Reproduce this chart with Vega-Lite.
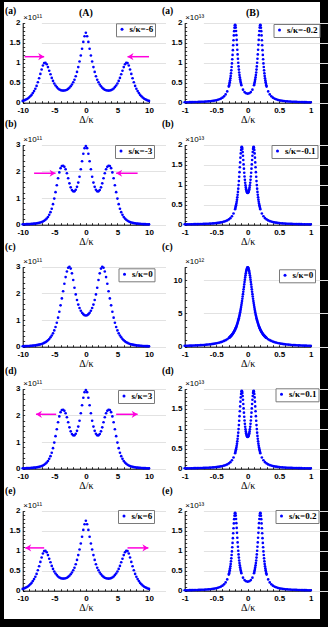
{
"$schema": "https://vega.github.io/schema/vega-lite/v6.json",
"background": "black",
"padding": {"left": 4, "top": 2, "right": 8, "bottom": 8},
"autosize": {"type": "pad"},
"columns": 2,
"spacing": 0,
"bounds": "flush",
"align": "each",
"resolve": {"scale": {"color": "independent", "shape": "independent"}, "legend": {"color": "independent", "shape": "independent"}},
"config": {
  "view": {"stroke": null, "fill": "white"},
  "axis": {"domainColor": "#000", "domainWidth": 1, "tickColor": "#000", "tickWidth": 0.8, "tickSize": -2, "labelFont": "Liberation Sans", "labelFontSize": 8, "labelFontWeight": "bold", "labelColor": "#000", "labelOverlap": false, "labelFlush": false, "minExtent": 0, "grid": false, "titleColor": "#000"},
  "axisX": {"offset": -21.3, "labelPadding": 6, "titleFont": "Liberation Serif", "titleFontSize": 10, "titleFontWeight": "normal", "titlePadding": 0},
  "axisY": {"offset": -18.7, "labelPadding": 4.7, "grid": true, "gridColor": "#e2e2e2", "gridWidth": 1, "titleAngle": 0, "titleAlign": "left", "titleBaseline": "alphabetic", "titleX": 0, "titleY": 17, "titleFont": "Liberation Sans", "titleFontSize": 8, "titleFontWeight": "normal"},
  "legend": {"orient": "none", "strokeColor": "#7a7a7a", "fillColor": "#ffffff", "padding": 1.5, "symbolType": "circle", "symbolSize": 9, "symbolStrokeWidth": 0, "labelFont": "Liberation Serif", "labelFontWeight": "bold", "labelFontSize": 9, "labelOffset": 3, "labelColor": "#000"},
  "title": {"anchor": "start", "frame": "group", "font": "Liberation Serif", "fontSize": 9.5, "fontWeight": "bold", "color": "#000", "baseline": "alphabetic"}
},
"datasets": {
"L6": [{"x":-10,"y":0.045},{"x":-9.8,"y":0.055},{"x":-9.6,"y":0.07},{"x":-9.4,"y":0.085},{"x":-9.2,"y":0.105},{"x":-9,"y":0.13},{"x":-8.8,"y":0.16},{"x":-8.6,"y":0.195},{"x":-8.4,"y":0.24},{"x":-8.2,"y":0.29},{"x":-8,"y":0.35},{"x":-7.8,"y":0.42},{"x":-7.6,"y":0.51},{"x":-7.4,"y":0.61},{"x":-7.2,"y":0.72},{"x":-7,"y":0.83},{"x":-6.8,"y":0.93},{"x":-6.6,"y":0.99},{"x":-6.4,"y":1},{"x":-6.2,"y":0.96},{"x":-6,"y":0.89},{"x":-5.8,"y":0.8},{"x":-5.6,"y":0.71},{"x":-5.4,"y":0.62},{"x":-5.2,"y":0.545},{"x":-5,"y":0.48},{"x":-4.8,"y":0.43},{"x":-4.6,"y":0.39},{"x":-4.4,"y":0.355},{"x":-4.2,"y":0.33},{"x":-4,"y":0.315},{"x":-3.8,"y":0.306},{"x":-3.6,"y":0.303},{"x":-3.4,"y":0.305},{"x":-3.2,"y":0.312},{"x":-3,"y":0.325},{"x":-2.8,"y":0.345},{"x":-2.6,"y":0.375},{"x":-2.4,"y":0.41},{"x":-2.2,"y":0.455},{"x":-2,"y":0.51},{"x":-1.8,"y":0.575},{"x":-1.6,"y":0.66},{"x":-1.4,"y":0.77},{"x":-1.2,"y":0.89},{"x":-1,"y":1.03},{"x":-0.8,"y":1.18},{"x":-0.6,"y":1.35},{"x":-0.4,"y":1.52},{"x":-0.2,"y":1.66},{"x":0,"y":1.75},{"x":0.2,"y":1.66},{"x":0.4,"y":1.52},{"x":0.6,"y":1.35},{"x":0.8,"y":1.18},{"x":1,"y":1.03},{"x":1.2,"y":0.89},{"x":1.4,"y":0.77},{"x":1.6,"y":0.66},{"x":1.8,"y":0.575},{"x":2,"y":0.51},{"x":2.2,"y":0.455},{"x":2.4,"y":0.41},{"x":2.6,"y":0.375},{"x":2.8,"y":0.345},{"x":3,"y":0.325},{"x":3.2,"y":0.312},{"x":3.4,"y":0.305},{"x":3.6,"y":0.303},{"x":3.8,"y":0.306},{"x":4,"y":0.315},{"x":4.2,"y":0.33},{"x":4.4,"y":0.355},{"x":4.6,"y":0.39},{"x":4.8,"y":0.43},{"x":5,"y":0.48},{"x":5.2,"y":0.545},{"x":5.4,"y":0.62},{"x":5.6,"y":0.71},{"x":5.8,"y":0.8},{"x":6,"y":0.89},{"x":6.2,"y":0.96},{"x":6.4,"y":1},{"x":6.6,"y":0.99},{"x":6.8,"y":0.93},{"x":7,"y":0.83},{"x":7.2,"y":0.72},{"x":7.4,"y":0.61},{"x":7.6,"y":0.51},{"x":7.8,"y":0.42},{"x":8,"y":0.35},{"x":8.2,"y":0.29},{"x":8.4,"y":0.24},{"x":8.6,"y":0.195},{"x":8.8,"y":0.16},{"x":9,"y":0.13},{"x":9.2,"y":0.105},{"x":9.4,"y":0.085},{"x":9.6,"y":0.07},{"x":9.8,"y":0.055},{"x":10,"y":0.045}],
"L3": [{"x":-10,"y":0.014},{"x":-9.8,"y":0.015},{"x":-9.6,"y":0.017},{"x":-9.4,"y":0.019},{"x":-9.2,"y":0.021},{"x":-9,"y":0.023},{"x":-8.8,"y":0.026},{"x":-8.6,"y":0.029},{"x":-8.4,"y":0.033},{"x":-8.2,"y":0.038},{"x":-8,"y":0.044},{"x":-7.8,"y":0.051},{"x":-7.6,"y":0.06},{"x":-7.4,"y":0.07},{"x":-7.2,"y":0.083},{"x":-7,"y":0.1},{"x":-6.8,"y":0.12},{"x":-6.6,"y":0.15},{"x":-6.4,"y":0.185},{"x":-6.2,"y":0.23},{"x":-6,"y":0.29},{"x":-5.8,"y":0.37},{"x":-5.6,"y":0.47},{"x":-5.4,"y":0.6},{"x":-5.2,"y":0.77},{"x":-5,"y":0.98},{"x":-4.8,"y":1.22},{"x":-4.6,"y":1.48},{"x":-4.4,"y":1.74},{"x":-4.2,"y":1.96},{"x":-4,"y":2.12},{"x":-3.8,"y":2.2},{"x":-3.6,"y":2.21},{"x":-3.4,"y":2.17},{"x":-3.2,"y":2.08},{"x":-3,"y":1.93},{"x":-2.8,"y":1.74},{"x":-2.6,"y":1.55},{"x":-2.4,"y":1.4},{"x":-2.2,"y":1.3},{"x":-2,"y":1.25},{"x":-1.8,"y":1.25},{"x":-1.6,"y":1.31},{"x":-1.4,"y":1.42},{"x":-1.2,"y":1.58},{"x":-1,"y":1.8},{"x":-0.8,"y":2.08},{"x":-0.6,"y":2.38},{"x":-0.4,"y":2.66},{"x":-0.2,"y":2.87},{"x":0,"y":2.95},{"x":0.2,"y":2.87},{"x":0.4,"y":2.66},{"x":0.6,"y":2.38},{"x":0.8,"y":2.08},{"x":1,"y":1.8},{"x":1.2,"y":1.58},{"x":1.4,"y":1.42},{"x":1.6,"y":1.31},{"x":1.8,"y":1.25},{"x":2,"y":1.25},{"x":2.2,"y":1.3},{"x":2.4,"y":1.4},{"x":2.6,"y":1.55},{"x":2.8,"y":1.74},{"x":3,"y":1.93},{"x":3.2,"y":2.08},{"x":3.4,"y":2.17},{"x":3.6,"y":2.21},{"x":3.8,"y":2.2},{"x":4,"y":2.12},{"x":4.2,"y":1.96},{"x":4.4,"y":1.74},{"x":4.6,"y":1.48},{"x":4.8,"y":1.22},{"x":5,"y":0.98},{"x":5.2,"y":0.77},{"x":5.4,"y":0.6},{"x":5.6,"y":0.47},{"x":5.8,"y":0.37},{"x":6,"y":0.29},{"x":6.2,"y":0.23},{"x":6.4,"y":0.185},{"x":6.6,"y":0.15},{"x":6.8,"y":0.12},{"x":7,"y":0.1},{"x":7.2,"y":0.083},{"x":7.4,"y":0.07},{"x":7.6,"y":0.06},{"x":7.8,"y":0.051},{"x":8,"y":0.044},{"x":8.2,"y":0.038},{"x":8.4,"y":0.033},{"x":8.6,"y":0.029},{"x":8.8,"y":0.026},{"x":9,"y":0.023},{"x":9.2,"y":0.021},{"x":9.4,"y":0.019},{"x":9.6,"y":0.017},{"x":9.8,"y":0.015},{"x":10,"y":0.014}],
"L0": [{"x":-10,"y":0.017},{"x":-9.8,"y":0.019},{"x":-9.6,"y":0.021},{"x":-9.4,"y":0.023},{"x":-9.2,"y":0.025},{"x":-9,"y":0.028},{"x":-8.8,"y":0.031},{"x":-8.6,"y":0.035},{"x":-8.4,"y":0.04},{"x":-8.2,"y":0.045},{"x":-8,"y":0.05},{"x":-7.8,"y":0.057},{"x":-7.6,"y":0.066},{"x":-7.4,"y":0.076},{"x":-7.2,"y":0.088},{"x":-7,"y":0.1},{"x":-6.8,"y":0.12},{"x":-6.6,"y":0.142},{"x":-6.4,"y":0.167},{"x":-6.2,"y":0.2},{"x":-6,"y":0.24},{"x":-5.8,"y":0.29},{"x":-5.6,"y":0.35},{"x":-5.4,"y":0.42},{"x":-5.2,"y":0.5},{"x":-5,"y":0.61},{"x":-4.8,"y":0.74},{"x":-4.6,"y":0.9},{"x":-4.4,"y":1.09},{"x":-4.2,"y":1.31},{"x":-4,"y":1.55},{"x":-3.8,"y":1.81},{"x":-3.6,"y":2.08},{"x":-3.4,"y":2.36},{"x":-3.2,"y":2.61},{"x":-3,"y":2.82},{"x":-2.8,"y":2.96},{"x":-2.6,"y":3},{"x":-2.4,"y":2.93},{"x":-2.2,"y":2.75},{"x":-2,"y":2.5},{"x":-1.8,"y":2.21},{"x":-1.6,"y":1.96},{"x":-1.4,"y":1.75},{"x":-1.2,"y":1.58},{"x":-1,"y":1.45},{"x":-0.8,"y":1.35},{"x":-0.6,"y":1.27},{"x":-0.4,"y":1.22},{"x":-0.2,"y":1.18},{"x":0,"y":1.17},{"x":0.2,"y":1.18},{"x":0.4,"y":1.22},{"x":0.6,"y":1.27},{"x":0.8,"y":1.35},{"x":1,"y":1.45},{"x":1.2,"y":1.58},{"x":1.4,"y":1.75},{"x":1.6,"y":1.96},{"x":1.8,"y":2.21},{"x":2,"y":2.5},{"x":2.2,"y":2.75},{"x":2.4,"y":2.93},{"x":2.6,"y":3},{"x":2.8,"y":2.96},{"x":3,"y":2.82},{"x":3.2,"y":2.61},{"x":3.4,"y":2.36},{"x":3.6,"y":2.08},{"x":3.8,"y":1.81},{"x":4,"y":1.55},{"x":4.2,"y":1.31},{"x":4.4,"y":1.09},{"x":4.6,"y":0.9},{"x":4.8,"y":0.74},{"x":5,"y":0.61},{"x":5.2,"y":0.5},{"x":5.4,"y":0.42},{"x":5.6,"y":0.35},{"x":5.8,"y":0.29},{"x":6,"y":0.24},{"x":6.2,"y":0.2},{"x":6.4,"y":0.167},{"x":6.6,"y":0.142},{"x":6.8,"y":0.12},{"x":7,"y":0.1},{"x":7.2,"y":0.088},{"x":7.4,"y":0.076},{"x":7.6,"y":0.066},{"x":7.8,"y":0.057},{"x":8,"y":0.05},{"x":8.2,"y":0.045},{"x":8.4,"y":0.04},{"x":8.6,"y":0.035},{"x":8.8,"y":0.031},{"x":9,"y":0.028},{"x":9.2,"y":0.025},{"x":9.4,"y":0.023},{"x":9.6,"y":0.021},{"x":9.8,"y":0.019},{"x":10,"y":0.017}],
"R2": [{"x":-1,"y":0.0108},{"x":-0.975,"y":0.0115},{"x":-0.95,"y":0.0121},{"x":-0.925,"y":0.0129},{"x":-0.9,"y":0.0137},{"x":-0.875,"y":0.0146},{"x":-0.85,"y":0.0156},{"x":-0.825,"y":0.0168},{"x":-0.8,"y":0.018},{"x":-0.775,"y":0.0194},{"x":-0.75,"y":0.021},{"x":-0.725,"y":0.0229},{"x":-0.7,"y":0.0249},{"x":-0.675,"y":0.0272},{"x":-0.65,"y":0.03},{"x":-0.625,"y":0.0332},{"x":-0.6,"y":0.037},{"x":-0.575,"y":0.0415},{"x":-0.55,"y":0.0469},{"x":-0.525,"y":0.0535},{"x":-0.5,"y":0.062},{"x":-0.475,"y":0.072},{"x":-0.45,"y":0.085},{"x":-0.425,"y":0.103},{"x":-0.4,"y":0.126},{"x":-0.375,"y":0.159},{"x":-0.35,"y":0.208},{"x":-0.325,"y":0.282},{"x":-0.3,"y":0.403},{"x":-0.295,"y":0.436},{"x":-0.29,"y":0.473},{"x":-0.285,"y":0.514},{"x":-0.28,"y":0.56},{"x":-0.275,"y":0.612},{"x":-0.27,"y":0.67},{"x":-0.265,"y":0.736},{"x":-0.26,"y":0.809},{"x":-0.255,"y":0.892},{"x":-0.25,"y":0.983},{"x":-0.245,"y":1.085},{"x":-0.24,"y":1.195},{"x":-0.235,"y":1.314},{"x":-0.23,"y":1.437},{"x":-0.225,"y":1.562},{"x":-0.22,"y":1.682},{"x":-0.215,"y":1.789},{"x":-0.21,"y":1.874},{"x":-0.205,"y":1.93},{"x":-0.2,"y":1.95},{"x":-0.195,"y":1.931},{"x":-0.19,"y":1.877},{"x":-0.185,"y":1.793},{"x":-0.18,"y":1.688},{"x":-0.175,"y":1.57},{"x":-0.17,"y":1.446},{"x":-0.165,"y":1.324},{"x":-0.16,"y":1.207},{"x":-0.155,"y":1.098},{"x":-0.15,"y":0.998},{"x":-0.145,"y":0.908},{"x":-0.14,"y":0.828},{"x":-0.135,"y":0.756},{"x":-0.13,"y":0.692},{"x":-0.125,"y":0.635},{"x":-0.12,"y":0.585},{"x":-0.115,"y":0.541},{"x":-0.11,"y":0.502},{"x":-0.105,"y":0.467},{"x":-0.1,"y":0.436},{"x":-0.075,"y":0.326},{"x":-0.05,"y":0.266},{"x":-0.025,"y":0.235},{"x":0,"y":0.226},{"x":0.025,"y":0.235},{"x":0.05,"y":0.266},{"x":0.075,"y":0.326},{"x":0.1,"y":0.436},{"x":0.105,"y":0.467},{"x":0.11,"y":0.502},{"x":0.115,"y":0.541},{"x":0.12,"y":0.585},{"x":0.125,"y":0.635},{"x":0.13,"y":0.692},{"x":0.135,"y":0.756},{"x":0.14,"y":0.828},{"x":0.145,"y":0.908},{"x":0.15,"y":0.998},{"x":0.155,"y":1.098},{"x":0.16,"y":1.207},{"x":0.165,"y":1.324},{"x":0.17,"y":1.446},{"x":0.175,"y":1.57},{"x":0.18,"y":1.688},{"x":0.185,"y":1.793},{"x":0.19,"y":1.877},{"x":0.195,"y":1.931},{"x":0.2,"y":1.95},{"x":0.205,"y":1.93},{"x":0.21,"y":1.874},{"x":0.215,"y":1.789},{"x":0.22,"y":1.682},{"x":0.225,"y":1.562},{"x":0.23,"y":1.437},{"x":0.235,"y":1.314},{"x":0.24,"y":1.195},{"x":0.245,"y":1.085},{"x":0.25,"y":0.983},{"x":0.255,"y":0.892},{"x":0.26,"y":0.809},{"x":0.265,"y":0.736},{"x":0.27,"y":0.67},{"x":0.275,"y":0.612},{"x":0.28,"y":0.56},{"x":0.285,"y":0.514},{"x":0.29,"y":0.473},{"x":0.295,"y":0.436},{"x":0.3,"y":0.403},{"x":0.325,"y":0.282},{"x":0.35,"y":0.208},{"x":0.375,"y":0.159},{"x":0.4,"y":0.126},{"x":0.425,"y":0.103},{"x":0.45,"y":0.085},{"x":0.475,"y":0.072},{"x":0.5,"y":0.062},{"x":0.525,"y":0.0535},{"x":0.55,"y":0.0469},{"x":0.575,"y":0.0415},{"x":0.6,"y":0.037},{"x":0.625,"y":0.0332},{"x":0.65,"y":0.03},{"x":0.675,"y":0.0272},{"x":0.7,"y":0.0249},{"x":0.725,"y":0.0229},{"x":0.75,"y":0.021},{"x":0.775,"y":0.0194},{"x":0.8,"y":0.018},{"x":0.825,"y":0.0168},{"x":0.85,"y":0.0156},{"x":0.875,"y":0.0146},{"x":0.9,"y":0.0137},{"x":0.925,"y":0.0129},{"x":0.95,"y":0.0121},{"x":0.975,"y":0.0115},{"x":1,"y":0.0108}],
"R1": [{"x":-1,"y":0.0094},{"x":-0.975,"y":0.0099},{"x":-0.95,"y":0.0104},{"x":-0.925,"y":0.011},{"x":-0.9,"y":0.0116},{"x":-0.875,"y":0.0124},{"x":-0.85,"y":0.0131},{"x":-0.825,"y":0.014},{"x":-0.8,"y":0.0149},{"x":-0.775,"y":0.0158},{"x":-0.75,"y":0.017},{"x":-0.725,"y":0.0183},{"x":-0.7,"y":0.0196},{"x":-0.675,"y":0.0212},{"x":-0.65,"y":0.0229},{"x":-0.625,"y":0.0249},{"x":-0.6,"y":0.0272},{"x":-0.575,"y":0.0297},{"x":-0.55,"y":0.0327},{"x":-0.525,"y":0.0362},{"x":-0.5,"y":0.0403},{"x":-0.475,"y":0.0451},{"x":-0.45,"y":0.0509},{"x":-0.425,"y":0.0579},{"x":-0.4,"y":0.0664},{"x":-0.375,"y":0.0771},{"x":-0.35,"y":0.0906},{"x":-0.325,"y":0.108},{"x":-0.3,"y":0.132},{"x":-0.275,"y":0.164},{"x":-0.25,"y":0.21},{"x":-0.225,"y":0.279},{"x":-0.2,"y":0.389},{"x":-0.195,"y":0.419},{"x":-0.19,"y":0.452},{"x":-0.185,"y":0.488},{"x":-0.18,"y":0.529},{"x":-0.175,"y":0.575},{"x":-0.17,"y":0.626},{"x":-0.165,"y":0.684},{"x":-0.16,"y":0.748},{"x":-0.155,"y":0.82},{"x":-0.15,"y":0.901},{"x":-0.145,"y":0.991},{"x":-0.14,"y":1.09},{"x":-0.135,"y":1.199},{"x":-0.13,"y":1.314},{"x":-0.125,"y":1.436},{"x":-0.12,"y":1.558},{"x":-0.115,"y":1.676},{"x":-0.11,"y":1.782},{"x":-0.105,"y":1.867},{"x":-0.1,"y":1.925},{"x":-0.095,"y":1.949},{"x":-0.09,"y":1.937},{"x":-0.085,"y":1.891},{"x":-0.08,"y":1.817},{"x":-0.075,"y":1.723},{"x":-0.07,"y":1.618},{"x":-0.065,"y":1.508},{"x":-0.06,"y":1.401},{"x":-0.055,"y":1.299},{"x":-0.05,"y":1.206},{"x":-0.045,"y":1.122},{"x":-0.04,"y":1.049},{"x":-0.035,"y":0.986},{"x":-0.03,"y":0.933},{"x":-0.025,"y":0.889},{"x":-0.02,"y":0.854},{"x":-0.015,"y":0.827},{"x":-0.01,"y":0.809},{"x":-0.005,"y":0.798},{"x":0,"y":0.794},{"x":0.005,"y":0.798},{"x":0.01,"y":0.809},{"x":0.015,"y":0.827},{"x":0.02,"y":0.854},{"x":0.025,"y":0.889},{"x":0.03,"y":0.933},{"x":0.035,"y":0.986},{"x":0.04,"y":1.049},{"x":0.045,"y":1.122},{"x":0.05,"y":1.206},{"x":0.055,"y":1.299},{"x":0.06,"y":1.401},{"x":0.065,"y":1.508},{"x":0.07,"y":1.618},{"x":0.075,"y":1.723},{"x":0.08,"y":1.817},{"x":0.085,"y":1.891},{"x":0.09,"y":1.937},{"x":0.095,"y":1.949},{"x":0.1,"y":1.925},{"x":0.105,"y":1.867},{"x":0.11,"y":1.782},{"x":0.115,"y":1.676},{"x":0.12,"y":1.558},{"x":0.125,"y":1.436},{"x":0.13,"y":1.314},{"x":0.135,"y":1.199},{"x":0.14,"y":1.09},{"x":0.145,"y":0.991},{"x":0.15,"y":0.901},{"x":0.155,"y":0.82},{"x":0.16,"y":0.748},{"x":0.165,"y":0.684},{"x":0.17,"y":0.626},{"x":0.175,"y":0.575},{"x":0.18,"y":0.529},{"x":0.185,"y":0.488},{"x":0.19,"y":0.452},{"x":0.195,"y":0.419},{"x":0.2,"y":0.389},{"x":0.225,"y":0.279},{"x":0.25,"y":0.21},{"x":0.275,"y":0.164},{"x":0.3,"y":0.132},{"x":0.325,"y":0.108},{"x":0.35,"y":0.0906},{"x":0.375,"y":0.0771},{"x":0.4,"y":0.0664},{"x":0.425,"y":0.0579},{"x":0.45,"y":0.0509},{"x":0.475,"y":0.0451},{"x":0.5,"y":0.0403},{"x":0.525,"y":0.0362},{"x":0.55,"y":0.0327},{"x":0.575,"y":0.0297},{"x":0.6,"y":0.0272},{"x":0.625,"y":0.0249},{"x":0.65,"y":0.0229},{"x":0.675,"y":0.0212},{"x":0.7,"y":0.0196},{"x":0.725,"y":0.0183},{"x":0.75,"y":0.017},{"x":0.775,"y":0.0158},{"x":0.8,"y":0.0149},{"x":0.825,"y":0.014},{"x":0.85,"y":0.0131},{"x":0.875,"y":0.0124},{"x":0.9,"y":0.0116},{"x":0.925,"y":0.011},{"x":0.95,"y":0.0104},{"x":0.975,"y":0.0099},{"x":1,"y":0.0094}],
"R0": [{"x":-1,"y":0.1298},{"x":-0.975,"y":0.1364},{"x":-0.95,"y":0.1436},{"x":-0.925,"y":0.1514},{"x":-0.9,"y":0.1598},{"x":-0.875,"y":0.1689},{"x":-0.85,"y":0.1789},{"x":-0.825,"y":0.1897},{"x":-0.8,"y":0.2015},{"x":-0.775,"y":0.2145},{"x":-0.75,"y":0.229},{"x":-0.725,"y":0.244},{"x":-0.7,"y":0.262},{"x":-0.675,"y":0.281},{"x":-0.65,"y":0.303},{"x":-0.625,"y":0.327},{"x":-0.6,"y":0.354},{"x":-0.575,"y":0.384},{"x":-0.55,"y":0.418},{"x":-0.525,"y":0.458},{"x":-0.5,"y":0.503},{"x":-0.475,"y":0.554},{"x":-0.45,"y":0.614},{"x":-0.425,"y":0.685},{"x":-0.4,"y":0.767},{"x":-0.375,"y":0.865},{"x":-0.35,"y":0.983},{"x":-0.325,"y":1.125},{"x":-0.3,"y":1.299},{"x":-0.295,"y":1.338},{"x":-0.29,"y":1.379},{"x":-0.285,"y":1.422},{"x":-0.28,"y":1.467},{"x":-0.275,"y":1.514},{"x":-0.27,"y":1.563},{"x":-0.265,"y":1.615},{"x":-0.26,"y":1.669},{"x":-0.255,"y":1.725},{"x":-0.25,"y":1.784},{"x":-0.245,"y":1.847},{"x":-0.24,"y":1.912},{"x":-0.235,"y":1.98},{"x":-0.23,"y":2.052},{"x":-0.225,"y":2.128},{"x":-0.22,"y":2.208},{"x":-0.215,"y":2.292},{"x":-0.21,"y":2.38},{"x":-0.205,"y":2.473},{"x":-0.2,"y":2.571},{"x":-0.195,"y":2.675},{"x":-0.19,"y":2.784},{"x":-0.185,"y":2.899},{"x":-0.18,"y":3.021},{"x":-0.175,"y":3.15},{"x":-0.17,"y":3.286},{"x":-0.165,"y":3.43},{"x":-0.16,"y":3.582},{"x":-0.155,"y":3.743},{"x":-0.15,"y":3.913},{"x":-0.145,"y":4.094},{"x":-0.14,"y":4.284},{"x":-0.135,"y":4.486},{"x":-0.13,"y":4.698},{"x":-0.125,"y":4.923},{"x":-0.12,"y":5.16},{"x":-0.115,"y":5.411},{"x":-0.11,"y":5.673},{"x":-0.105,"y":5.95},{"x":-0.1,"y":6.24},{"x":-0.095,"y":6.543},{"x":-0.09,"y":6.86},{"x":-0.085,"y":7.189},{"x":-0.08,"y":7.53},{"x":-0.075,"y":7.88},{"x":-0.07,"y":8.239},{"x":-0.065,"y":8.603},{"x":-0.06,"y":8.971},{"x":-0.055,"y":9.338},{"x":-0.05,"y":9.7},{"x":-0.045,"y":10.054},{"x":-0.04,"y":10.392},{"x":-0.035,"y":10.71},{"x":-0.03,"y":11.002},{"x":-0.025,"y":11.261},{"x":-0.02,"y":11.483},{"x":-0.015,"y":11.662},{"x":-0.01,"y":11.793},{"x":-0.005,"y":11.873},{"x":0,"y":11.9},{"x":0.005,"y":11.873},{"x":0.01,"y":11.793},{"x":0.015,"y":11.662},{"x":0.02,"y":11.483},{"x":0.025,"y":11.261},{"x":0.03,"y":11.002},{"x":0.035,"y":10.71},{"x":0.04,"y":10.392},{"x":0.045,"y":10.054},{"x":0.05,"y":9.7},{"x":0.055,"y":9.338},{"x":0.06,"y":8.971},{"x":0.065,"y":8.603},{"x":0.07,"y":8.239},{"x":0.075,"y":7.88},{"x":0.08,"y":7.53},{"x":0.085,"y":7.189},{"x":0.09,"y":6.86},{"x":0.095,"y":6.543},{"x":0.1,"y":6.24},{"x":0.105,"y":5.95},{"x":0.11,"y":5.673},{"x":0.115,"y":5.411},{"x":0.12,"y":5.16},{"x":0.125,"y":4.923},{"x":0.13,"y":4.698},{"x":0.135,"y":4.486},{"x":0.14,"y":4.284},{"x":0.145,"y":4.094},{"x":0.15,"y":3.913},{"x":0.155,"y":3.743},{"x":0.16,"y":3.582},{"x":0.165,"y":3.43},{"x":0.17,"y":3.286},{"x":0.175,"y":3.15},{"x":0.18,"y":3.021},{"x":0.185,"y":2.899},{"x":0.19,"y":2.784},{"x":0.195,"y":2.675},{"x":0.2,"y":2.571},{"x":0.205,"y":2.473},{"x":0.21,"y":2.38},{"x":0.215,"y":2.292},{"x":0.22,"y":2.208},{"x":0.225,"y":2.128},{"x":0.23,"y":2.052},{"x":0.235,"y":1.98},{"x":0.24,"y":1.912},{"x":0.245,"y":1.847},{"x":0.25,"y":1.784},{"x":0.255,"y":1.725},{"x":0.26,"y":1.669},{"x":0.265,"y":1.615},{"x":0.27,"y":1.563},{"x":0.275,"y":1.514},{"x":0.28,"y":1.467},{"x":0.285,"y":1.422},{"x":0.29,"y":1.379},{"x":0.295,"y":1.338},{"x":0.3,"y":1.299},{"x":0.325,"y":1.125},{"x":0.35,"y":0.983},{"x":0.375,"y":0.865},{"x":0.4,"y":0.767},{"x":0.425,"y":0.685},{"x":0.45,"y":0.614},{"x":0.475,"y":0.554},{"x":0.5,"y":0.503},{"x":0.525,"y":0.458},{"x":0.55,"y":0.418},{"x":0.575,"y":0.384},{"x":0.6,"y":0.354},{"x":0.625,"y":0.327},{"x":0.65,"y":0.303},{"x":0.675,"y":0.281},{"x":0.7,"y":0.262},{"x":0.725,"y":0.244},{"x":0.75,"y":0.229},{"x":0.775,"y":0.2145},{"x":0.8,"y":0.2015},{"x":0.825,"y":0.1897},{"x":0.85,"y":0.1789},{"x":0.875,"y":0.1689},{"x":0.9,"y":0.1598},{"x":0.925,"y":0.1514},{"x":0.95,"y":0.1436},{"x":0.975,"y":0.1364},{"x":1,"y":0.1298}]
},
"concat": [
{
 "width": 162, "height": 122,
 "title": {"text": "(a)", "dx": 1, "offset": -13.5},
 "encoding": {
  "x": {"field": "x", "type": "quantitative", "scale": {"domain": [-10, 10], "range": [18.7, 145], "nice": false, "zero": false}, "axis": {"labelOverlap": false, "values": [-10,-9,-8,-7,-6,-5,-4,-3,-2,-1,0,1,2,3,4,5,6,7,8,9,10], "labelExpr": "abs(datum.value/5-round(datum.value/5))<0.001 ? ''+datum.value : ''", "title": "Δ/κ", "grid": false}},
  "y": {"field": "y", "type": "quantitative", "scale": {"domain": [0, 2], "range": [100.7, 20.7], "nice": false, "zero": false}, "axis": {"labelOverlap": false, "values": [0,0.1,0.2,0.3,0.4,0.5,0.6,0.7,0.8,0.9,1,1.1,1.2,1.3,1.4,1.5,1.6,1.7,1.8,1.9,2], "labelExpr": "abs(datum.value*2-round(datum.value*2))<0.001 ? ''+datum.value : ''", "title": "×10¹¹", "gridOpacity": {"condition": {"test": "abs(datum.value*2-round(datum.value*2))<0.001", "value": 1}, "value": 0}}}
 },
 "layer": [
  {"data": {"name": "L6"}, "mark": {"type": "point", "filled": true, "size": 7, "opacity": 1},
   "encoding": {"color": {"datum": "s/κ=-6", "type": "nominal", "scale": {"range": ["#0000ff"]}, "legend": {"title": null, "legendX": 112, "legendY": 21.3}}}},
  {"data": {"values": [{"x": -9.7, "xe": -6.6, "y": 1.15}, {"x": 10, "xe": 6.6, "y": 1.15}]}, "mark": {"type": "rule", "color": "#ff00dd", "strokeWidth": 1.5},
   "encoding": {"x2": {"field": "xe"}}},
  {"data": {"values": [{"x": -6.6, "y": 1.15, "dir": "right"}, {"x": 6.6, "y": 1.15, "dir": "left"}]}, "mark": {"type": "point", "filled": true, "color": "#ff00dd", "size": 144, "opacity": 1},
   "encoding": {"shape": {"field": "dir", "type": "nominal", "scale": {"domain": ["right", "left"], "range": ["M0,0L-1,-0.6L-0.7,0L-1,0.6Z", "M0,0L1,-0.6L0.7,0L1,0.6Z"]}, "legend": null}}},
  {"data": {"values": [{"x": 0, "y": 2, "t": "(A)"}]}, "mark": {"type": "text", "font": "Liberation Serif", "fontWeight": "bold", "fontSize": 10, "baseline": "alphabetic", "dy": -7, "color": "#000"},
   "encoding": {"text": {"field": "t"}}}
 ]
},
{
 "width": 154, "height": 122,
 "title": {"text": "(a)", "dx": -4, "offset": -13.5},
 "encoding": {
  "x": {"field": "x", "type": "quantitative", "scale": {"domain": [-1, 1], "range": [18.7, 144.7], "nice": false, "zero": false}, "axis": {"labelOverlap": false, "values": [-1,-0.9,-0.8,-0.7,-0.6,-0.5,-0.4,-0.3,-0.2,-0.1,0,0.1,0.2,0.3,0.4,0.5,0.6,0.7,0.8,0.9,1], "labelExpr": "abs(datum.value*2-round(datum.value*2))<0.001 ? ''+datum.value : ''", "title": "Δ/κ", "grid": false}},
  "y": {"field": "y", "type": "quantitative", "scale": {"domain": [0, 2], "range": [100.7, 20.7], "nice": false, "zero": false}, "axis": {"labelOverlap": false, "values": [0,0.1,0.2,0.3,0.4,0.5,0.6,0.7,0.8,0.9,1,1.1,1.2,1.3,1.4,1.5,1.6,1.7,1.8,1.9,2], "labelExpr": "abs(datum.value*2-round(datum.value*2))<0.001 ? ''+datum.value : ''", "title": "×10¹³", "gridOpacity": {"condition": {"test": "abs(datum.value*2-round(datum.value*2))<0.001", "value": 1}, "value": 0}}}
 },
 "layer": [
  {"data": {"name": "R2"}, "mark": {"type": "point", "filled": true, "size": 7, "opacity": 1},
   "encoding": {"color": {"datum": "s/κ=-0.2", "type": "nominal", "scale": {"range": ["#0000ff"]}, "legend": {"title": null, "legendX": 107.5, "legendY": 22}}}},
  {"data": {"values": [{"x": 0, "y": 2, "t": "(B)"}]}, "mark": {"type": "text", "font": "Liberation Serif", "fontWeight": "bold", "fontSize": 10, "baseline": "alphabetic", "dy": -7, "dx": 5, "color": "#000"},
   "encoding": {"text": {"field": "t"}}}
 ]
},
{
 "width": 162, "height": 122,
 "title": {"text": "(b)", "dx": 1, "offset": -4.5},
 "encoding": {
  "x": {"field": "x", "type": "quantitative", "scale": {"domain": [-10, 10], "range": [18.7, 145], "nice": false, "zero": false}, "axis": {"labelOverlap": false, "values": [-10,-9,-8,-7,-6,-5,-4,-3,-2,-1,0,1,2,3,4,5,6,7,8,9,10], "labelExpr": "abs(datum.value/5-round(datum.value/5))<0.001 ? ''+datum.value : ''", "title": "Δ/κ", "grid": false}},
  "y": {"field": "y", "type": "quantitative", "scale": {"domain": [0, 3], "range": [100.7, 20.7], "nice": false, "zero": false}, "axis": {"labelOverlap": false, "values": [0,0.2,0.4,0.6,0.8,1,1.2,1.4,1.6,1.8,2,2.2,2.4,2.6,2.8,3], "labelExpr": "abs(datum.value-round(datum.value))<0.001 ? ''+datum.value : ''", "title": "×10¹¹", "gridOpacity": {"condition": {"test": "abs(datum.value-round(datum.value))<0.001", "value": 1}, "value": 0}}}
 },
 "layer": [
  {"data": {"name": "L3"}, "mark": {"type": "point", "filled": true, "size": 7, "opacity": 1},
   "encoding": {"color": {"datum": "s/κ=-3", "type": "nominal", "scale": {"range": ["#0000ff"]}, "legend": {"title": null, "legendX": 111, "legendY": 21}}}},
  {"data": {"values": [{"x": -8.2, "xe": -4.8, "y": 1.93}, {"x": 8.2, "xe": 4.8, "y": 1.93}]}, "mark": {"type": "rule", "color": "#ff00dd", "strokeWidth": 1.5},
   "encoding": {"x2": {"field": "xe"}}},
  {"data": {"values": [{"x": -4.8, "y": 1.93, "dir": "right"}, {"x": 4.8, "y": 1.93, "dir": "left"}]}, "mark": {"type": "point", "filled": true, "color": "#ff00dd", "size": 144, "opacity": 1},
   "encoding": {"shape": {"field": "dir", "type": "nominal", "scale": {"domain": ["right", "left"], "range": ["M0,0L-1,-0.6L-0.7,0L-1,0.6Z", "M0,0L1,-0.6L0.7,0L1,0.6Z"]}, "legend": null}}}
 ]
},
{
 "width": 154, "height": 122,
 "title": {"text": "(b)", "dx": -4, "offset": -4.5},
 "encoding": {
  "x": {"field": "x", "type": "quantitative", "scale": {"domain": [-1, 1], "range": [18.7, 144.7], "nice": false, "zero": false}, "axis": {"labelOverlap": false, "values": [-1,-0.9,-0.8,-0.7,-0.6,-0.5,-0.4,-0.3,-0.2,-0.1,0,0.1,0.2,0.3,0.4,0.5,0.6,0.7,0.8,0.9,1], "labelExpr": "abs(datum.value*2-round(datum.value*2))<0.001 ? ''+datum.value : ''", "title": "Δ/κ", "grid": false}},
  "y": {"field": "y", "type": "quantitative", "scale": {"domain": [0, 2], "range": [100.7, 20.7], "nice": false, "zero": false}, "axis": {"labelOverlap": false, "values": [0,0.1,0.2,0.3,0.4,0.5,0.6,0.7,0.8,0.9,1,1.1,1.2,1.3,1.4,1.5,1.6,1.7,1.8,1.9,2], "labelExpr": "abs(datum.value*2-round(datum.value*2))<0.001 ? ''+datum.value : ''", "title": "×10¹³", "gridOpacity": {"condition": {"test": "abs(datum.value*2-round(datum.value*2))<0.001", "value": 1}, "value": 0}}}
 },
 "layer": [
  {"data": {"name": "R1"}, "mark": {"type": "point", "filled": true, "size": 7, "opacity": 1},
   "encoding": {"color": {"datum": "s/κ=-0.1", "type": "nominal", "scale": {"range": ["#0000ff"]}, "legend": {"title": null, "legendX": 105.5, "legendY": 21}}}}
 ]
},
{
 "width": 162, "height": 122,
 "title": {"text": "(c)", "dx": 1, "offset": -5.5},
 "encoding": {
  "x": {"field": "x", "type": "quantitative", "scale": {"domain": [-10, 10], "range": [18.7, 145], "nice": false, "zero": false}, "axis": {"labelOverlap": false, "values": [-10,-9,-8,-7,-6,-5,-4,-3,-2,-1,0,1,2,3,4,5,6,7,8,9,10], "labelExpr": "abs(datum.value/5-round(datum.value/5))<0.001 ? ''+datum.value : ''", "title": "Δ/κ", "grid": false}},
  "y": {"field": "y", "type": "quantitative", "scale": {"domain": [0, 3], "range": [100.7, 20.7], "nice": false, "zero": false}, "axis": {"labelOverlap": false, "values": [0,0.2,0.4,0.6,0.8,1,1.2,1.4,1.6,1.8,2,2.2,2.4,2.6,2.8,3], "labelExpr": "abs(datum.value-round(datum.value))<0.001 ? ''+datum.value : ''", "title": "×10¹¹", "gridOpacity": {"condition": {"test": "abs(datum.value-round(datum.value))<0.001", "value": 1}, "value": 0}}}
 },
 "layer": [
  {"data": {"name": "L0"}, "mark": {"type": "point", "filled": true, "size": 7, "opacity": 1},
   "encoding": {"color": {"datum": "s/κ=0", "type": "nominal", "scale": {"range": ["#0000ff"]}, "legend": {"title": null, "legendX": 114.5, "legendY": 22.3}}}}
 ]
},
{
 "width": 154, "height": 122,
 "title": {"text": "(c)", "dx": -4, "offset": -5.5},
 "encoding": {
  "x": {"field": "x", "type": "quantitative", "scale": {"domain": [-1, 1], "range": [18.7, 144.7], "nice": false, "zero": false}, "axis": {"labelOverlap": false, "values": [-1,-0.9,-0.8,-0.7,-0.6,-0.5,-0.4,-0.3,-0.2,-0.1,0,0.1,0.2,0.3,0.4,0.5,0.6,0.7,0.8,0.9,1], "labelExpr": "abs(datum.value*2-round(datum.value*2))<0.001 ? ''+datum.value : ''", "title": "Δ/κ", "grid": false}},
  "y": {"field": "y", "type": "quantitative", "scale": {"domain": [0, 12], "range": [100.7, 20.7], "nice": false, "zero": false}, "axis": {"labelOverlap": false, "values": [0,1,2,3,4,5,6,7,8,9,10,11,12], "labelExpr": "abs(datum.value/5-round(datum.value/5))<0.001 ? ''+datum.value : ''", "title": "×10¹²", "gridOpacity": {"condition": {"test": "abs(datum.value/5-round(datum.value/5))<0.001", "value": 1}, "value": 0}}}
 },
 "layer": [
  {"data": {"name": "R0"}, "mark": {"type": "point", "filled": true, "size": 7, "opacity": 1},
   "encoding": {"color": {"datum": "s/κ=0", "type": "nominal", "scale": {"range": ["#0000ff"]}, "legend": {"title": null, "legendX": 113, "legendY": 23.3}}}}
 ]
},
{
 "width": 162, "height": 122,
 "title": {"text": "(d)", "dx": 1, "offset": -7},
 "encoding": {
  "x": {"field": "x", "type": "quantitative", "scale": {"domain": [-10, 10], "range": [18.7, 145], "nice": false, "zero": false}, "axis": {"labelOverlap": false, "values": [-10,-9,-8,-7,-6,-5,-4,-3,-2,-1,0,1,2,3,4,5,6,7,8,9,10], "labelExpr": "abs(datum.value/5-round(datum.value/5))<0.001 ? ''+datum.value : ''", "title": "Δ/κ", "grid": false}},
  "y": {"field": "y", "type": "quantitative", "scale": {"domain": [0, 3], "range": [100.7, 20.7], "nice": false, "zero": false}, "axis": {"labelOverlap": false, "values": [0,0.2,0.4,0.6,0.8,1,1.2,1.4,1.6,1.8,2,2.2,2.4,2.6,2.8,3], "labelExpr": "abs(datum.value-round(datum.value))<0.001 ? ''+datum.value : ''", "title": "×10¹¹", "gridOpacity": {"condition": {"test": "abs(datum.value-round(datum.value))<0.001", "value": 1}, "value": 0}}}
 },
 "layer": [
  {"data": {"name": "L3"}, "mark": {"type": "point", "filled": true, "size": 7, "opacity": 1},
   "encoding": {"color": {"datum": "s/κ=3", "type": "nominal", "scale": {"range": ["#0000ff"]}, "legend": {"title": null, "legendX": 114, "legendY": 22}}}},
  {"data": {"values": [{"x": -4.7, "xe": -7.9, "y": 2.04}, {"x": 4.8, "xe": 8.2, "y": 2.04}]}, "mark": {"type": "rule", "color": "#ff00dd", "strokeWidth": 1.5},
   "encoding": {"x2": {"field": "xe"}}},
  {"data": {"values": [{"x": -7.9, "y": 2.04, "dir": "left"}, {"x": 8.2, "y": 2.04, "dir": "right"}]}, "mark": {"type": "point", "filled": true, "color": "#ff00dd", "size": 144, "opacity": 1},
   "encoding": {"shape": {"field": "dir", "type": "nominal", "scale": {"domain": ["right", "left"], "range": ["M0,0L-1,-0.6L-0.7,0L-1,0.6Z", "M0,0L1,-0.6L0.7,0L1,0.6Z"]}, "legend": null}}}
 ]
},
{
 "width": 154, "height": 122,
 "title": {"text": "(d)", "dx": -4, "offset": -7},
 "encoding": {
  "x": {"field": "x", "type": "quantitative", "scale": {"domain": [-1, 1], "range": [18.7, 144.7], "nice": false, "zero": false}, "axis": {"labelOverlap": false, "values": [-1,-0.9,-0.8,-0.7,-0.6,-0.5,-0.4,-0.3,-0.2,-0.1,0,0.1,0.2,0.3,0.4,0.5,0.6,0.7,0.8,0.9,1], "labelExpr": "abs(datum.value*2-round(datum.value*2))<0.001 ? ''+datum.value : ''", "title": "Δ/κ", "grid": false}},
  "y": {"field": "y", "type": "quantitative", "scale": {"domain": [0, 2], "range": [100.7, 20.7], "nice": false, "zero": false}, "axis": {"labelOverlap": false, "values": [0,0.1,0.2,0.3,0.4,0.5,0.6,0.7,0.8,0.9,1,1.1,1.2,1.3,1.4,1.5,1.6,1.7,1.8,1.9,2], "labelExpr": "abs(datum.value*2-round(datum.value*2))<0.001 ? ''+datum.value : ''", "title": "×10¹³", "gridOpacity": {"condition": {"test": "abs(datum.value*2-round(datum.value*2))<0.001", "value": 1}, "value": 0}}}
 },
 "layer": [
  {"data": {"name": "R1"}, "mark": {"type": "point", "filled": true, "size": 7, "opacity": 1},
   "encoding": {"color": {"datum": "s/κ=0.1", "type": "nominal", "scale": {"range": ["#0000ff"]}, "legend": {"title": null, "legendX": 109.5, "legendY": 20.3}}}}
 ]
},
{
 "width": 162, "height": 129,
 "title": {"text": "(e)", "dx": 1, "offset": -5},
 "encoding": {
  "x": {"field": "x", "type": "quantitative", "scale": {"domain": [-10, 10], "range": [18.7, 145], "nice": false, "zero": false}, "axis": {"labelOverlap": false, "offset": -28.3, "values": [-10,-9,-8,-7,-6,-5,-4,-3,-2,-1,0,1,2,3,4,5,6,7,8,9,10], "labelExpr": "abs(datum.value/5-round(datum.value/5))<0.001 ? ''+datum.value : ''", "title": "Δ/κ", "grid": false}},
  "y": {"field": "y", "type": "quantitative", "scale": {"domain": [0, 2], "range": [100.7, 20.7], "nice": false, "zero": false}, "axis": {"labelOverlap": false, "values": [0,0.1,0.2,0.3,0.4,0.5,0.6,0.7,0.8,0.9,1,1.1,1.2,1.3,1.4,1.5,1.6,1.7,1.8,1.9,2], "labelExpr": "abs(datum.value*2-round(datum.value*2))<0.001 ? ''+datum.value : ''", "title": "×10¹¹", "gridOpacity": {"condition": {"test": "abs(datum.value*2-round(datum.value*2))<0.001", "value": 1}, "value": 0}}}
 },
 "layer": [
  {"data": {"name": "L6"}, "mark": {"type": "point", "filled": true, "size": 7, "opacity": 1},
   "encoding": {"color": {"datum": "s/κ=6", "type": "nominal", "scale": {"range": ["#0000ff"]}, "legend": {"title": null, "legendX": 114, "legendY": 20}}}},
  {"data": {"values": [{"x": -6.6, "xe": -9.6, "y": 1.07}, {"x": 6.6, "xe": 9.9, "y": 1.07}]}, "mark": {"type": "rule", "color": "#ff00dd", "strokeWidth": 1.5},
   "encoding": {"x2": {"field": "xe"}}},
  {"data": {"values": [{"x": -9.6, "y": 1.07, "dir": "left"}, {"x": 9.9, "y": 1.07, "dir": "right"}]}, "mark": {"type": "point", "filled": true, "color": "#ff00dd", "size": 144, "opacity": 1},
   "encoding": {"shape": {"field": "dir", "type": "nominal", "scale": {"domain": ["right", "left"], "range": ["M0,0L-1,-0.6L-0.7,0L-1,0.6Z", "M0,0L1,-0.6L0.7,0L1,0.6Z"]}, "legend": null}}}
 ]
},
{
 "width": 154, "height": 129,
 "title": {"text": "(e)", "dx": -4, "offset": -5},
 "encoding": {
  "x": {"field": "x", "type": "quantitative", "scale": {"domain": [-1, 1], "range": [18.7, 144.7], "nice": false, "zero": false}, "axis": {"labelOverlap": false, "offset": -28.3, "values": [-1,-0.9,-0.8,-0.7,-0.6,-0.5,-0.4,-0.3,-0.2,-0.1,0,0.1,0.2,0.3,0.4,0.5,0.6,0.7,0.8,0.9,1], "labelExpr": "abs(datum.value*2-round(datum.value*2))<0.001 ? ''+datum.value : ''", "title": "Δ/κ", "grid": false}},
  "y": {"field": "y", "type": "quantitative", "scale": {"domain": [0, 2], "range": [100.7, 20.7], "nice": false, "zero": false}, "axis": {"labelOverlap": false, "values": [0,0.1,0.2,0.3,0.4,0.5,0.6,0.7,0.8,0.9,1,1.1,1.2,1.3,1.4,1.5,1.6,1.7,1.8,1.9,2], "labelExpr": "abs(datum.value*2-round(datum.value*2))<0.001 ? ''+datum.value : ''", "title": "×10¹³", "gridOpacity": {"condition": {"test": "abs(datum.value*2-round(datum.value*2))<0.001", "value": 1}, "value": 0}}}
 },
 "layer": [
  {"data": {"name": "R2"}, "mark": {"type": "point", "filled": true, "size": 7, "opacity": 1},
   "encoding": {"color": {"datum": "s/κ=0.2", "type": "nominal", "scale": {"range": ["#0000ff"]}, "legend": {"title": null, "legendX": 109.5, "legendY": 20}}}}
 ]
}
]
}
